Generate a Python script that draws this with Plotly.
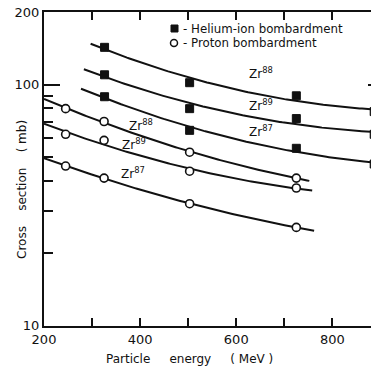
import numpy as np
import plotly.graph_objects as go

# ---- data (energy in MeV, cross section in mb) ----
he_energy = [326, 503, 725, 887]
he_zr88 = [143, 102, 90, 77.4]
he_zr89 = [110, 79.6, 72.4, 62.3]
he_zr87 = [89.2, 64.7, 54.5, 46.9]

p_energy = [245, 325, 503, 725]
p_zr88 = [79.6, 70.4, 52.5, 41.0]
p_zr89 = [62.3, 58.8, 43.8, 37.3]
p_zr87 = [46.0, 41.0, 32.1, 25.6]

# extent of the smooth fitted curves (MeV)
he_curve_from = [297, 283, 277]
he_curve_to = [897, 897, 897]
p_curve_from = [200, 200, 200]
p_curve_to = [752, 758, 762]

isotopes = ["88", "89", "87"]
# label anchor points (MeV, mb)
he_label_x = [652, 652, 652]
he_label_y = [112, 82.6, 64.4]
p_label_x = [402, 387, 385]
p_label_y = [68.2, 56.9, 43.2]

x_tick_vals = [200, 400, 600, 800]
x_minor_vals = [300, 500, 700]
y_tick_vals = [10, 100, 200]
y_tick_text = ["10", "100", "200"]
y_minor_vals = [20, 30, 40, 50, 60, 70, 80, 90]

X_RANGE = [200, 897]
Y_RANGE = [9.98, 200.4]

# ---- figure geometry (pixels); the page body adds an 8 px margin ----
OFF = 8
W, H = 379 - OFF, 370 - OFF
L, R, T, B = 44 - OFF, 0, 12 - OFF, 370 - 326
PW, PH = W - L - R, H - T - B


def px(x):
    """page pixel x -> paper coordinate"""
    return (x - OFF - L) / PW


def py(y):
    """page pixel y -> paper coordinate"""
    return (H - B - (y - OFF)) / PH


FONT = "DejaVu Sans"
INK = "#111111"


def fit_curve(xs, ys, x0, x1):
    c = np.polyfit(xs, np.log10(ys), 2)
    xx = np.linspace(x0, x1, 120)
    return xx, 10 ** np.polyval(c, xx)


fig = go.Figure()

he_sets = [he_zr88, he_zr89, he_zr87]
p_sets = [p_zr88, p_zr89, p_zr87]

for i, ys in enumerate(he_sets):
    xx, yy = fit_curve(he_energy, ys, he_curve_from[i], he_curve_to[i])
    fig.add_trace(go.Scatter(x=xx, y=yy, mode="lines", line=dict(color=INK, width=2),
                             showlegend=False, hoverinfo="skip"))
for i, ys in enumerate(p_sets):
    xx, yy = fit_curve(p_energy, ys, p_curve_from[i], p_curve_to[i])
    fig.add_trace(go.Scatter(x=xx, y=yy, mode="lines", line=dict(color=INK, width=2),
                             showlegend=False, hoverinfo="skip"))

for i, ys in enumerate(he_sets):
    fig.add_trace(go.Scatter(x=he_energy, y=ys, mode="markers", name="Helium-ion bombardment",
                             marker=dict(symbol="square", size=8, color=INK,
                                         line=dict(color=INK, width=1)),
                             showlegend=False))
for i, ys in enumerate(p_sets):
    fig.add_trace(go.Scatter(x=p_energy, y=ys, mode="markers", name="Proton bombardment",
                             marker=dict(symbol="circle", size=8, color="white",
                                         line=dict(color=INK, width=1.6)),
                             showlegend=False))

# invisible trace so the right-hand tick axis is drawn
fig.add_trace(go.Scatter(x=he_energy, y=he_zr88, yaxis="y2", mode="markers",
                         marker=dict(opacity=0), showlegend=False, hoverinfo="skip"))

# isotope labels
for i, iso in enumerate(isotopes):
    fig.add_annotation(x=he_label_x[i], y=np.log10(he_label_y[i]), xref="x", yref="y",
                       text=f"Zr<sup>{iso}</sup>", showarrow=False,
                       font=dict(family=FONT, size=12, color=INK))
    fig.add_annotation(x=p_label_x[i], y=np.log10(p_label_y[i]), xref="x", yref="y",
                       text=f"Zr<sup>{iso}</sup>", showarrow=False,
                       font=dict(family=FONT, size=12, color=INK))

# legend (symbols as shapes, text as annotations)
fig.add_shape(type="rect", xref="paper", yref="paper",
              x0=px(171), x1=px(178), y0=py(32), y1=py(25),
              fillcolor=INK, line=dict(color=INK, width=1))
fig.add_shape(type="circle", xref="paper", yref="paper",
              x0=px(170.5), x1=px(177.5), y0=py(46.5), y1=py(39.5),
              fillcolor="white", line=dict(color=INK, width=1.5))
fig.add_annotation(x=px(181), y=py(29), xref="paper", yref="paper", xanchor="left",
                   yanchor="middle", text="- Helium-ion bombardment", showarrow=False,
                   font=dict(family=FONT, size=11.8, color=INK))
fig.add_annotation(x=px(181), y=py(43), xref="paper", yref="paper", xanchor="left",
                   yanchor="middle", text="- Proton bombardment", showarrow=False,
                   font=dict(family=FONT, size=11.8, color=INK))

# axis titles
NB = "\u00a0"
fig.add_annotation(x=px(189), y=py(359), xref="paper", yref="paper", xanchor="center",
                   yanchor="middle",
                   text=f"Particle{NB*5}energy{NB*5}({NB}MeV{NB})", showarrow=False,
                   font=dict(family=FONT, size=12, color=INK))
fig.add_annotation(x=px(22), y=py(190), xref="paper", yref="paper", xanchor="center",
                   yanchor="middle", textangle=-90,
                   text=f"Cross{NB*4}section{NB*4}({NB}mb)", showarrow=False,
                   font=dict(family=FONT, size=12, color=INK))

fig.update_layout(
    width=W, height=H,
    margin=dict(l=L, r=R, t=T, b=B, pad=0, autoexpand=False),
    plot_bgcolor="white", paper_bgcolor="white",
    font=dict(family=FONT, color=INK),
    showlegend=False,
    xaxis=dict(range=X_RANGE, tickmode="array", tickvals=x_tick_vals,
               ticks="inside", ticklen=8, tickwidth=1.5, tickcolor=INK,
               showline=True, linewidth=2, linecolor=INK, mirror="allticks",
               showgrid=False, zeroline=False, automargin=False,
               ticklabeloverflow="allow",
               tickfont=dict(family=FONT, size=13, color=INK),
               minor=dict(tickmode="array", tickvals=x_minor_vals, ticks="inside", ticklen=8,
                          tickwidth=1.5, tickcolor=INK, showgrid=False)),
    yaxis=dict(type="log", range=[np.log10(Y_RANGE[0]), np.log10(Y_RANGE[1])],
               tickmode="array", tickvals=y_tick_vals, ticktext=y_tick_text,
               ticks="inside", ticklen=16, tickwidth=1.5, tickcolor=INK,
               showline=True, linewidth=2, linecolor=INK, mirror=False,
               showgrid=False, zeroline=False, automargin=False,
               ticklabeloverflow="allow",
               tickfont=dict(family=FONT, size=13, color=INK),
               minor=dict(tickmode="array", tickvals=y_minor_vals, ticks="inside", ticklen=9,
                          tickwidth=1.5, tickcolor=INK, showgrid=False)),
    yaxis2=dict(type="log", range=[np.log10(Y_RANGE[0]), np.log10(Y_RANGE[1])],
                overlaying="y", side="right", tickmode="array", tickvals=y_tick_vals,
                showticklabels=False, ticks="inside", ticklen=11, tickwidth=1.5,
                tickcolor=INK, showline=False, showgrid=False, zeroline=False,
                automargin=False,
                minor=dict(tickmode="array", tickvals=y_minor_vals, ticks="inside", ticklen=5,
                           tickwidth=1.5, tickcolor=INK, showgrid=False)),
)

fig.write_html("out.html")
